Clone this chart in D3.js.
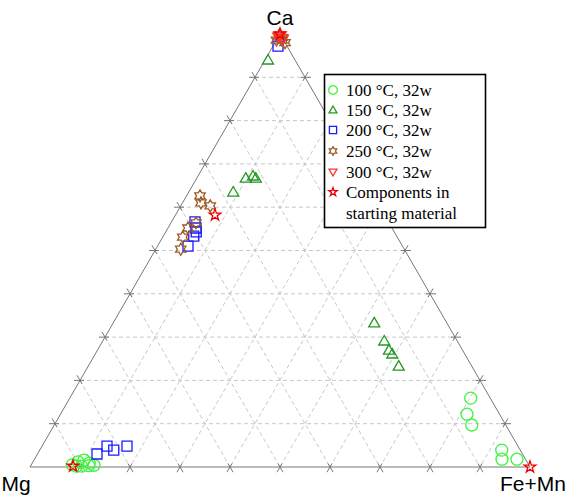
<!DOCTYPE html>
<html><head><meta charset="utf-8">
<script src="https://cdn.jsdelivr.net/npm/d3@7/dist/d3.min.js"></script>
<style>body{margin:0;background:#fff}svg{display:block}</style>
</head><body>
<svg id="c" width="574" height="496"></svg>
<script>
// Ternary data: [Ca, Mg, Fe+Mn] in percent
const vertexLabels = ["Ca", "Mg", "Fe+Mn"];
const seriesNames = ["100 °C, 32w", "150 °C, 32w", "200 °C, 32w", "250 °C, 32w", "300 °C, 32w", "Components in|starting material"];
const gridTicks = [10, 20, 30, 40, 50, 60, 70, 80, 90];

const s100 = [
  [0.5, 91.3, 8.2], [1.2, 89.8, 9.0], [1.6, 88.4, 10.0], [0.9, 87.7, 11.4],
  [0.4, 87.0, 12.6], [0.2, 89.6, 10.2], [0.2, 90.6, 9.2], [0.3, 88.1, 11.6],
  [15.9, 3.9, 80.2], [12.2, 6.5, 81.3], [9.7, 6.8, 83.5],
  [3.9, 3.7, 92.4], [1.8, 4.7, 93.5], [1.8, 1.7, 96.5]
];
const s150 = [
  [100, 0, 0], [94.0, 5.4, 0.6],
  [63.5, 27.6, 8.9], [66.7, 23.5, 9.8], [67.2, 21.8, 11.0], [66.7, 21.5, 11.8],
  [33.3, 14.5, 52.2], [29.1, 14.6, 56.3], [27.0, 14.7, 58.3], [26.1, 14.5, 59.4], [23.3, 14.6, 62.1]
];
const s200 = [
  [97.2, 1.8, 1.0],
  [56.6, 38.7, 4.7], [55.2, 39.2, 5.6], [54.3, 39.6, 6.1], [53.3, 40.6, 6.1], [51.0, 42.9, 6.1],
  [3.0, 85.1, 11.9], [4.8, 82.2, 13.0], [3.9, 81.3, 14.8], [4.8, 78.2, 17.0]
];
const s250 = [
  [98.6, 1.4, 0], [98.6, 0.3, 1.1], [98.0, 0, 2.0], [99.5, 0.5, 0], [99.2, 0, 0.8],
  [62.6, 34.7, 2.7], [61.0, 35.3, 3.7], [60.3, 33.8, 5.9],
  [56.4, 38.6, 5.0], [55.2, 40.8, 4.0], [53.1, 42.9, 4.0], [50.3, 44.7, 5.0]
];
const s300 = [
  [99.3, 0.7, 0], [98.8, 0, 1.2], [99.6, 0.2, 0.2]
];
const sComp = [
  [100, 0, 0], [58.2, 33.9, 7.9], [0.2, 91.3, 8.5], [0, 0, 100]
];

const svg = d3.select("#c");
const H = Math.sqrt(3) / 2;
const xS = d3.scaleLinear().domain([0, 1]).range([30, 530]);
const yS = d3.scaleLinear().domain([0, H]).range([467, 34]);
function proj(d) {
  const s = d[0] + d[1] + d[2];
  const ca = d[0] / s, fe = d[2] / s;
  return [xS(fe + ca / 2), yS(ca * H)];
}

// grid lines
const gridG = svg.append("g");
const tickG = svg.append("g");
const segs = [];
gridTicks.forEach(v => {
  const t = v, r = 100 - v;
  segs.push([[t, r, 0], [t, 0, r]]);   // Ca const
  segs.push([[r, t, 0], [0, t, r]]);   // Mg const
  segs.push([[r, 0, t], [0, r, t]]);   // FeMn const
});
segs.forEach(s => {
  const a = proj(s[0]), b = proj(s[1]);
  gridG.append("line").attr("x1", a[0]).attr("y1", a[1]).attr("x2", b[0]).attr("y2", b[1])
    .attr("stroke", "#c8c8c8").attr("stroke-width", 1).attr("stroke-dasharray", "4,3");
  const dx = b[0] - a[0], dy = b[1] - a[1], L = Math.hypot(dx, dy);
  const ux = dx / L, uy = dy / L;
  [[a, -1], [b, 1]].forEach(([p, sg]) => {
    tickG.append("line")
      .attr("x1", p[0] - sg * ux * 4).attr("y1", p[1] - sg * uy * 4)
      .attr("x2", p[0] + sg * ux * 6).attr("y2", p[1] + sg * uy * 6)
      .attr("stroke", "#777").attr("stroke-width", 1);
  });
});

// triangle edges
const corners = [[100, 0, 0], [0, 100, 0], [0, 0, 100]].map(proj);
svg.append("path").attr("d", d3.line()(corners) + "Z")
  .attr("fill", "none").attr("stroke", "#777").attr("stroke-width", 1);

// vertex labels
svg.append("text").attr("x", corners[0][0]).attr("y", 25).attr("text-anchor", "middle")
  .attr("font-family", "Liberation Sans, Arial, sans-serif").attr("font-size", 21).text(vertexLabels[0]);
svg.append("text").attr("x", 16).attr("y", 491).attr("text-anchor", "middle")
  .attr("font-family", "Liberation Sans, Arial, sans-serif").attr("font-size", 21).text(vertexLabels[1]);
svg.append("text").attr("x", 533).attr("y", 491).attr("text-anchor", "middle")
  .attr("font-family", "Liberation Sans, Arial, sans-serif").attr("font-size", 21).text(vertexLabels[2]);

// marker shapes
function hexagram(r) {
  const pts = [];
  const ri = r / Math.sqrt(3);
  for (let i = 0; i < 12; i++) {
    const ang = -Math.PI / 2 + i * Math.PI / 6;
    const rr = i % 2 === 0 ? r : ri;
    pts.push([rr * Math.cos(ang), rr * Math.sin(ang)]);
  }
  return d3.line()(pts) + "Z";
}
function triUp(s) { return `M0,${-s*0.55}L${s*0.55},${s*0.4}L${-s*0.55},${s*0.4}Z`; }
function triDown(s) { return `M0,${s*0.55}L${s*0.55},${-s*0.4}L${-s*0.55},${-s*0.4}Z`; }
function square(s) { return `M${-s/2},${-s/2}h${s}v${s}h${-s}Z`; }
function circle(r) { return d3.symbol(d3.symbolCircle, Math.PI * r * r)(); }
function star(s) { return d3.symbol(d3.symbolStar, s)(); }

const styles = [
  { data: s100, color: "#3cf53c", path: sc => circle(6 * sc) },
  { data: s150, color: "#229922", path: sc => triUp(10 * sc) },
  { data: s200, color: "#1a1aff", path: sc => square(10 * sc) },
  { data: s250, color: "#9c5a24", path: sc => hexagram(6 * sc) },
  { data: s300, color: "#ff3333", path: sc => triDown(10 * sc) },
  { data: sComp, color: "#ee0000", path: sc => star(42 * sc * sc) }
];

const markG = svg.append("g");
styles.forEach(st => {
  markG.selectAll(null).data(st.data).enter().append("path")
    .attr("d", st.path(1))
    .attr("transform", d => { const p = proj(d); return `translate(${p[0]},${p[1]})`; })
    .attr("fill", "none").attr("stroke", st.color).attr("stroke-width", 1.3);
});

// legend
const lg = svg.append("g");
lg.append("rect").attr("x", 324.5).attr("y", 74.5).attr("width", 161).attr("height", 153)
  .attr("fill", "#fff").attr("stroke", "#000").attr("stroke-width", 1.6);
const rowY = [90, 110, 130, 151, 172, 192];
styles.forEach((st, i) => {
  lg.append("path").attr("d", st.path(0.72)).attr("transform", `translate(333,${rowY[i]})`)
    .attr("fill", "none").attr("stroke", st.color).attr("stroke-width", 1.3);
  const lines = seriesNames[i].split("|");
  lines.forEach((ln, j) => {
    lg.append("text").attr("x", 346).attr("y", rowY[i] + 6 + j * 20.5)
      .attr("font-family", "Liberation Serif, Times New Roman, serif").attr("font-size", 17)
      .text(ln);
  });
});
</script>
</body></html>
